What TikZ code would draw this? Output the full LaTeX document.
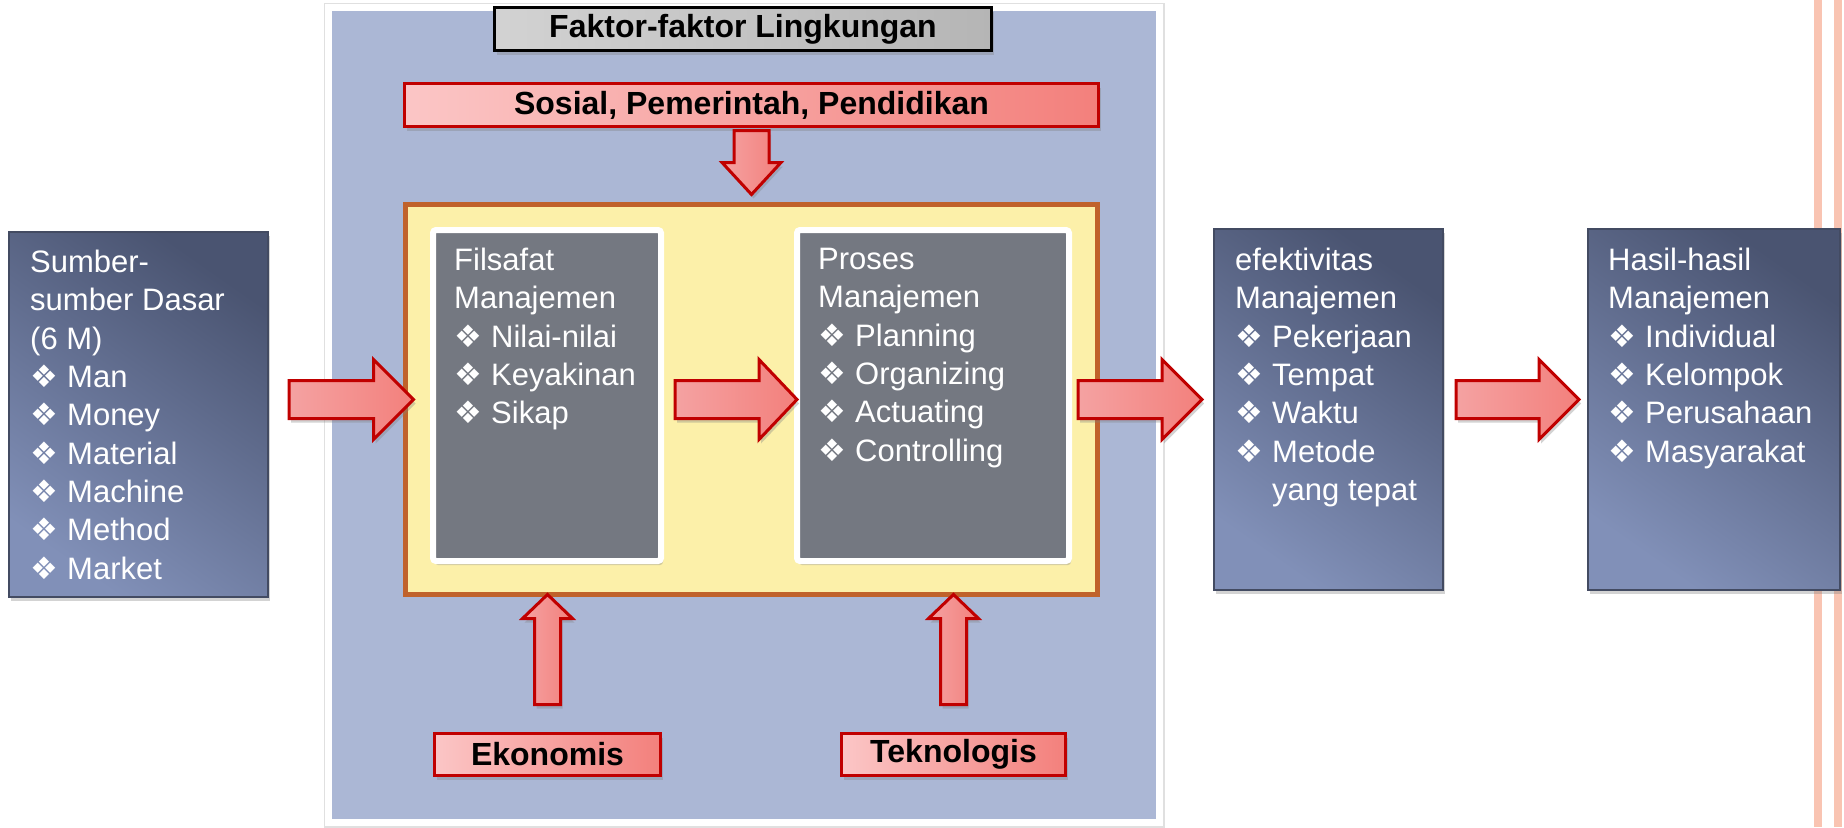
\documentclass[tikz,border=0pt]{standalone}
\usepackage{fontspec}
\setmainfont{Liberation Sans}
\newfontfamily\symfont{DejaVu Sans}
\usetikzlibrary{calc,shadows}

\definecolor{panelblue}{HTML}{ABB7D5}
\definecolor{yelfill}{HTML}{FCF0A9}
\definecolor{yeledge}{HTML}{C0622B}
\definecolor{grayin}{HTML}{747881}
\definecolor{slatedark}{HTML}{4A5471}
\definecolor{slatelight}{HTML}{8190B8}
\definecolor{slateedge}{HTML}{434B62}
\definecolor{redline}{HTML}{C00000}
\definecolor{pinkA}{HTML}{F4A2A2}
\definecolor{pinkB}{HTML}{FBC6C6}
\definecolor{pinkC}{HTML}{F3807C}
\definecolor{stripe}{HTML}{F9C4B2}

\newcommand\boxfont{\fontsize{31}{38.3}\selectfont}
\newcommand\bl[1]{\makebox[37pt][l]{\symfont\fontsize{31}{31}\selectfont ❖}#1}

% block arrow: from, to, shaft half-width, head half-width, head length, style
\newcommand\blockarrow[6]{%
  \coordinate (ba-a) at #1;
  \coordinate (ba-b) at #2;
  \coordinate (ba-h) at ($(ba-b)!#5pt!(ba-a)$);
  \draw[redarrow,#6] ($(ba-a)!#3pt!90:(ba-b)$) -- ($(ba-h)!#3pt!90:(ba-b)$)
    -- ($(ba-h)!#4pt!90:(ba-b)$) -- (ba-b) -- ($(ba-h)!#4pt!-90:(ba-b)$)
    -- ($(ba-h)!#3pt!-90:(ba-b)$) -- ($(ba-a)!#3pt!-90:(ba-b)$) -- cycle;
}

\begin{document}
\begin{tikzpicture}[x=1pt,y=-1pt,
  font=\boxfont,
  shadowed/.style={drop shadow={opacity=.35, shadow xshift=2pt, shadow yshift=-4pt}},
  panelbox/.style={rectangle, fill=panelblue, draw=white, line width=7pt, outer sep=0pt,
    preaction={draw=black!12, line width=10pt}},
  yelbox/.style={rectangle, fill=yelfill, draw=yeledge, line width=5pt, outer sep=0pt},
  graybox/.style={rectangle, rounded corners=3pt, fill=grayin, draw=white, line width=6pt, outer sep=0pt, shadowed},
  darkbox/.style={rectangle, draw=slateedge, line width=2.5pt, outer sep=0pt,
    top color=slatedark, bottom color=slatelight, shading angle=-35, shadowed},
  titlebox/.style={rectangle, line width=3pt, outer sep=0pt, text=black,
    font=\fontsize{32}{38}\selectfont\bfseries, shadowed},
  redbox/.style={titlebox, draw=redline, left color=pinkB, right color=pinkC},
  greybox/.style={titlebox, draw=black, left color=gray!35, middle color=gray!18, right color=gray!58},
  redarrow/.style={draw=redline, line width=3pt, line join=miter,
    left color=pinkA, middle color=pinkB, right color=pinkC, shadowed},
  txt/.style={anchor=north west, inner sep=0pt, align=left, text=white}
]
\useasboundingbox (0,0) rectangle (1844,827);

% stripes at the right edge
\fill[stripe] (1814,0) rectangle (1822,827);
\fill[stripe] (1834,0) rectangle (1842,827);

% environment panel
\node[panelbox, minimum width=831pt, minimum height=815pt] (panel) at (744,415) {};
\node[greybox, minimum width=497pt, minimum height=43pt] (faktor) at (743,29) {Faktor-faktor Lingkungan};
\node[redbox, minimum width=694pt, minimum height=43pt] (sosial) at (751.5,105) {Sosial, Pemerintah, Pendidikan};
\node[redbox, minimum width=226pt, minimum height=42pt] (eko) at (547.5,754.5) {Ekonomis};
\node[redbox, minimum width=224pt, minimum height=42pt] (tek) at (953.5,754.5) {Teknologis};

\node[yelbox, minimum width=692pt, minimum height=390pt] (yel) at (751.5,399.5) {};
\node[graybox, minimum width=228pt, minimum height=331pt] (filsafat) at (547,395.5) {};
\node[graybox, minimum width=272pt, minimum height=331pt] (proses) at (933,395.5) {};

% outer boxes
\node[darkbox, minimum width=259pt, minimum height=365pt] (sumber) at (138.5,414.5) {};
\node[darkbox, minimum width=229pt, minimum height=361pt] (efek) at (1328.5,409.5) {};
\node[darkbox, minimum width=252pt, minimum height=361pt] (hasil) at (1714,409.5) {};

% texts
\node[txt] (sumbertxt) at ([shift={(21,18)}]sumber.north west)
  {Sumber-\\sumber Dasar\\(6 M)\\\bl{Man}\\\bl{Money}\\\bl{Material}\\\bl{Machine}\\\bl{Method}\\\bl{Market}};
\node[txt] (filsafattxt) at ([shift={(21,18)}]filsafat.north west)
  {Filsafat\\Manajemen\\\bl{Nilai-nilai}\\\bl{Keyakinan}\\\bl{Sikap}};
\node[txt] (prosestxt) at ([shift={(21,18)}]proses.north west)
  {Proses\\Manajemen\\\bl{Planning}\\\bl{Organizing}\\\bl{Actuating}\\\bl{Controlling}};
\node[txt] (efektxt) at ([shift={(21,19)}]efek.north west)
  {efektivitas\\Manajemen\\\bl{Pekerjaan}\\\bl{Tempat}\\\bl{Waktu}\\\bl{Metode}\\\hspace*{37pt}yang tepat};
\node[txt] (hasiltxt) at ([shift={(20,19)}]hasil.north west)
  {Hasil-hasil\\Manajemen\\\bl{Individual}\\\bl{Kelompok}\\\bl{Perusahaan}\\\bl{Masyarakat}};

% block arrows
\blockarrow{($(sumber.east |- yel.center)+(21,0)$)}{($(yel.west)+(8,0)$)}{19}{40}{40}{}
\blockarrow{($(filsafat.east |- yel.center)+(14,0)$)}{(proses.west |- yel.center)}{19}{40}{38}{}
\blockarrow{($(proses.east |- yel.center)+(9,0)$)}{($(efek.west |- yel.center)+(-12,0)$)}{19}{40}{40}{}
\blockarrow{($(efek.east |- yel.center)+(13,0)$)}{($(hasil.west |- yel.center)+(-9,0)$)}{19}{40}{40}{}
\blockarrow{($(sosial.south)+(0,4)$)}{($(yel.north -| sosial.south)+(0,-10)$)}{17.5}{29.5}{32}{}
\blockarrow{($(eko.north)+(0,-29)$)}{(yel.south -| eko.north)}{13}{25}{24}{}
\blockarrow{($(tek.north)+(0,-29)$)}{(yel.south -| tek.north)}{13}{25}{24}{}
\end{tikzpicture}
\end{document}
